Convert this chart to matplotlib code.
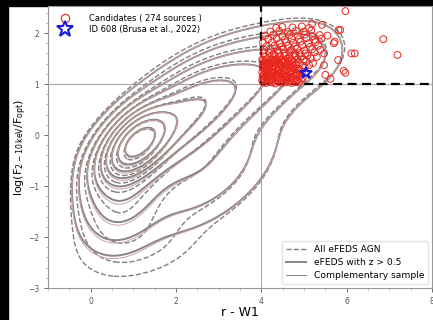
import numpy as np
import matplotlib
matplotlib.use("Agg")
import matplotlib.pyplot as plt
from matplotlib.lines import Line2D
from matplotlib.patches import Rectangle

# --- density models for the contour sets (x, y, sx, sy, rho, weight) ---
highz_comp = [
    (1.10, -0.15, 0.45, 0.38, 0.50, 1.00),
    (1.90, 0.20, 0.85, 0.62, 0.65, 0.35),
    (3.00, 0.75, 0.85, 0.55, 0.50, 0.15),
    (4.10, 1.20, 0.70, 0.48, 0.40, 0.07),
    (5.10, 1.55, 0.55, 0.40, 0.20, 0.035),
    (0.70, -1.10, 0.55, 0.60, 0.20, 0.12),
    (2.60, -0.70, 1.00, 0.70, 0.50, 0.07),
]
compl_comp = [
    (1.10, -0.17, 0.45, 0.39, 0.50, 1.00),
    (1.90, 0.18, 0.85, 0.63, 0.65, 0.35),
    (3.00, 0.74, 0.85, 0.55, 0.50, 0.15),
    (4.10, 1.20, 0.70, 0.48, 0.40, 0.07),
    (5.10, 1.55, 0.55, 0.40, 0.20, 0.035),
    (0.70, -1.13, 0.55, 0.61, 0.20, 0.125),
    (2.60, -0.72, 1.00, 0.70, 0.50, 0.07),
]
all_agn_comp = [
    (1.08, -0.20, 0.46, 0.40, 0.50, 1.00),
    (1.90, 0.22, 0.87, 0.65, 0.65, 0.35),
    (3.00, 0.80, 0.88, 0.55, 0.50, 0.15),
    (4.10, 1.25, 0.70, 0.48, 0.40, 0.07),
    (5.10, 1.60, 0.60, 0.40, 0.20, 0.035),
    (0.70, -1.20, 0.58, 0.65, 0.20, 0.14),
    (2.60, -0.75, 1.00, 0.70, 0.50, 0.07),
    (1.20, -2.10, 0.75, 0.40, 0.15, 0.035),
]
left_edge = -0.5  # sharp cut in r - W1 on the blue side
level_frac = [0.012, 0.03, 0.065, 0.12, 0.2, 0.3, 0.43, 0.6, 0.8]

# --- candidates (r - W1, log Fx/Fopt) ---
cand_x = [
    4.04, 4.11, 4.19, 4.26, 4.33, 4.41, 4.48, 4.57, 4.63, 4.71, 4.80, 4.88,
    4.02, 4.08, 4.15, 4.23, 4.30, 4.37, 4.45, 4.52, 4.60, 4.68, 4.76, 4.85, 4.93,
    4.05, 4.13, 4.20, 4.27, 4.35, 4.42, 4.50, 4.58, 4.65, 4.73, 4.82, 4.97,
    4.03, 4.10, 4.17, 4.25, 4.32, 4.39, 4.47, 4.55, 4.62, 4.70, 4.79, 4.90,
    4.06, 4.14, 4.21, 4.29, 4.36, 4.44, 4.51, 4.59, 4.67, 4.75, 4.86,
    4.02, 4.09, 4.16, 4.24, 4.31, 4.40, 4.46, 4.54, 4.64, 4.72, 4.83, 4.95,
    4.07, 4.12, 4.22, 4.28, 4.38, 4.43, 4.53, 4.61, 4.69, 4.78, 4.91,
    4.04, 4.11, 4.18, 4.26, 4.34, 4.41, 4.49, 4.57, 4.66, 4.74, 4.87, 5.02,
    4.03, 4.15, 4.24, 4.37, 4.46, 4.58, 4.69, 4.81, 4.97, 5.12,
    4.06, 4.12, 4.20, 4.28, 4.33, 4.44, 4.51, 4.62, 4.71,
    4.08, 4.19, 4.30, 4.41, 4.52, 4.63, 4.76, 4.88, 5.05, 5.21,
    4.04, 4.10, 4.23, 4.31, 4.39, 4.47, 4.56, 4.66,
    4.02, 4.13, 4.27, 4.35, 4.49, 4.60, 4.72, 4.85, 4.99, 5.16,
    4.10, 4.21, 4.33, 4.44, 4.57, 4.67, 4.80, 4.93, 5.08, 5.30,
    4.05, 4.18, 4.29, 4.40, 4.54, 4.66, 4.77, 4.90, 5.03, 5.25,
    4.07, 4.22, 4.38, 4.51, 4.70, 4.84, 5.01, 5.19, 5.38,
    4.12, 4.31, 4.47, 4.63, 4.79, 4.96, 5.14, 5.33,
    4.04, 4.25, 4.43, 4.58, 4.75, 4.92, 5.10, 5.27,
    4.16, 4.36, 4.55, 4.71, 4.88, 5.06, 5.24, 5.41,
    4.09, 4.28, 4.49, 4.66, 4.85, 5.02, 5.20, 5.37,
    4.21, 4.42, 4.62, 4.81, 5.00, 5.17,
    4.35, 4.49, 4.73, 4.95, 5.12,
    5.97, 6.86, 7.19, 6.11, 6.19, 5.85, 5.93, 5.97, 5.80, 5.72,
    5.19, 5.42, 5.81, 5.70, 5.47, 5.47, 5.50, 5.62, 5.55,
]
cand_y = [
    1.03, 1.02, 1.04, 1.03, 1.01, 1.04, 1.02, 1.03, 1.05, 1.02, 1.04, 1.03,
    1.07, 1.08, 1.06, 1.08, 1.07, 1.06, 1.09, 1.07, 1.08, 1.06, 1.08, 1.07, 1.09,
    1.11, 1.12, 1.10, 1.12, 1.11, 1.13, 1.10, 1.12, 1.11, 1.13, 1.10, 1.12,
    1.15, 1.16, 1.14, 1.16, 1.15, 1.17, 1.14, 1.16, 1.15, 1.14, 1.17, 1.15,
    1.19, 1.20, 1.18, 1.20, 1.19, 1.21, 1.18, 1.20, 1.19, 1.21, 1.18,
    1.23, 1.24, 1.22, 1.24, 1.23, 1.25, 1.22, 1.24, 1.23, 1.25, 1.22, 1.24,
    1.27, 1.28, 1.26, 1.28, 1.27, 1.29, 1.26, 1.28, 1.27, 1.29, 1.26,
    1.31, 1.32, 1.30, 1.32, 1.31, 1.33, 1.30, 1.32, 1.31, 1.33, 1.30, 1.32,
    1.36, 1.37, 1.35, 1.38, 1.36, 1.37, 1.35, 1.38, 1.36, 1.37,
    1.39, 1.40, 1.39, 1.41, 1.40, 1.39, 1.41, 1.40, 1.39,
    1.42, 1.41, 1.43, 1.42, 1.44, 1.41, 1.43, 1.42, 1.44, 1.41,
    1.46, 1.45, 1.46, 1.47, 1.45, 1.46, 1.47, 1.45,
    1.48, 1.49, 1.47, 1.49, 1.48, 1.50, 1.47, 1.49, 1.48, 1.50,
    1.54, 1.53, 1.55, 1.54, 1.56, 1.53, 1.55, 1.54, 1.56, 1.53,
    1.60, 1.61, 1.59, 1.61, 1.60, 1.62, 1.59, 1.61, 1.60, 1.62,
    1.67, 1.68, 1.66, 1.68, 1.67, 1.69, 1.66, 1.68, 1.67,
    1.74, 1.75, 1.73, 1.75, 1.74, 1.76, 1.73, 1.75,
    1.81, 1.82, 1.80, 1.82, 1.81, 1.83, 1.80, 1.82,
    1.88, 1.89, 1.87, 1.89, 1.88, 1.90, 1.87, 1.89,
    1.95, 1.96, 1.94, 1.96, 1.95, 1.97, 1.94, 1.96,
    2.03, 2.04, 2.02, 2.04, 2.03, 2.05,
    2.10, 2.12, 2.11, 2.13, 2.10,
    2.43, 1.88, 1.57, 1.60, 1.60, 2.06, 1.26, 1.22, 1.47, 1.83,
    2.18, 2.16, 2.06, 1.80, 1.60, 1.37, 1.18, 1.10, 1.95,
]
star_x, star_y = [5.05], [1.22]


def mixture(comps, xx, yy):
    z = np.zeros_like(xx)
    for mx, my, sx, sy, rho, w in comps:
        dx = (xx - mx) / sx
        dy = (yy - my) / sy
        q = (dx * dx - 2 * rho * dx * dy + dy * dy) / (1 - rho * rho)
        z += w * np.exp(-0.5 * q)
    return z / (1 + np.exp(-(xx - left_edge) / 0.09))


gx = np.linspace(-1.0, 8.0, 450)
gy = np.linspace(-3.2, 2.8, 320)
xx, yy = np.meshgrid(gx, gy)

plt.rcParams['font.family'] = 'DejaVu Sans'
fig = plt.figure(figsize=(4.33, 3.2), dpi=100)
fig.patch.set_facecolor('white')
ax = fig.add_axes([48 / 433, 1 - 288 / 320, 384 / 433, 282 / 320])

for comps, kw in [
    (all_agn_comp, dict(colors='#7f7f7f', linestyles='--', linewidths=1.0)),
    (highz_comp, dict(colors='#8c8484', linestyles='-', linewidths=1.4)),
    (compl_comp, dict(colors='#c8a4a4', linestyles='-', linewidths=0.7)),
]:
    z = mixture(comps, xx, yy)
    ax.contour(xx, yy, z, levels=[f * z.max() for f in level_frac], **kw)

# selection box
ax.axhline(1, color='#aaaaaa', lw=0.8, zorder=1)
ax.axvline(4, color='#aaaaaa', lw=0.8, zorder=1)
ax.plot([4, 4], [1, 2.53], color='black', ls='--', lw=1.6, dashes=(4, 2.5), zorder=4)
ax.plot([4, 8], [1, 1], color='black', ls='--', lw=1.6, dashes=(4, 2.5), zorder=4)

ax.scatter(cand_x, cand_y, s=24, facecolors='none', edgecolors='#e8261e', linewidths=0.7, zorder=5)
ax.plot(star_x, star_y, marker='*', ms=9, mfc='none', mec='#1a1adc', mew=1.4, ls='none', zorder=6)

ax.set_xlim(-1, 8)
ax.set_ylim(-3, 2.53)
ax.set_xticks([0, 2, 4, 6, 8])
ax.set_yticks([-3, -2, -1, 0, 1, 2])
ax.minorticks_on()
ax.tick_params(labelsize=5.5, colors='#555555', length=3, width=0.6)
ax.tick_params(which='minor', length=1.5, width=0.5, colors='#888888')
for s in ax.spines.values():
    s.set_color('#999999')
    s.set_linewidth(0.8)

ax.set_xlabel('r - W1', fontsize=9, labelpad=0)
ax.set_ylabel(r'log(F$_{2-10\,\mathrm{keV}}$/F$_{\mathrm{opt}}$)', fontsize=8)
ax.yaxis.set_label_coords(-0.05, 0.5)

h1 = Line2D([], [], marker='o', ls='none', mfc='none', mec='#e8261e', ms=6, mew=0.8)
h2 = Line2D([], [], marker='*', ls='none', mfc='none', mec='#1a1adc', ms=12, mew=1.5)

l1 = Line2D([], [], color='#7f7f7f', ls='--', lw=1.0)
l2 = Line2D([], [], color='#8c8484', ls='-', lw=1.4)
l3 = Line2D([], [], color='#8c8484', ls='-', lw=0.7)
leg2 = ax.legend([l1, l2, l3], ['All eFEDS AGN', 'eFEDS with z > 0.5', 'Complementary sample'],
                 loc='lower right', fontsize=6.6, frameon=True, fancybox=True,
                 handlelength=2.2, labelspacing=0.45, borderpad=0.45, borderaxespad=0.4)
leg2.get_frame().set_edgecolor('#dddddd')
ax.add_artist(leg2)
ax.legend([h1, h2], ['Candidates ( 274 sources )', 'ID 608 (Brusa et al., 2022)'],
          loc='upper left', fontsize=6, frameon=False, handletextpad=1.9,
          borderpad=0.4, labelspacing=0.25, borderaxespad=0.6)

# black borders at left and top of the image
fig.patches.append(Rectangle((0, 0), 8 / 433, 1, transform=fig.transFigure, color='black', zorder=-1))
fig.patches.append(Rectangle((0, 1 - 6 / 320), 1, 6 / 320, transform=fig.transFigure, color='black', zorder=-1))

fig.savefig('out.png', dpi=100)
